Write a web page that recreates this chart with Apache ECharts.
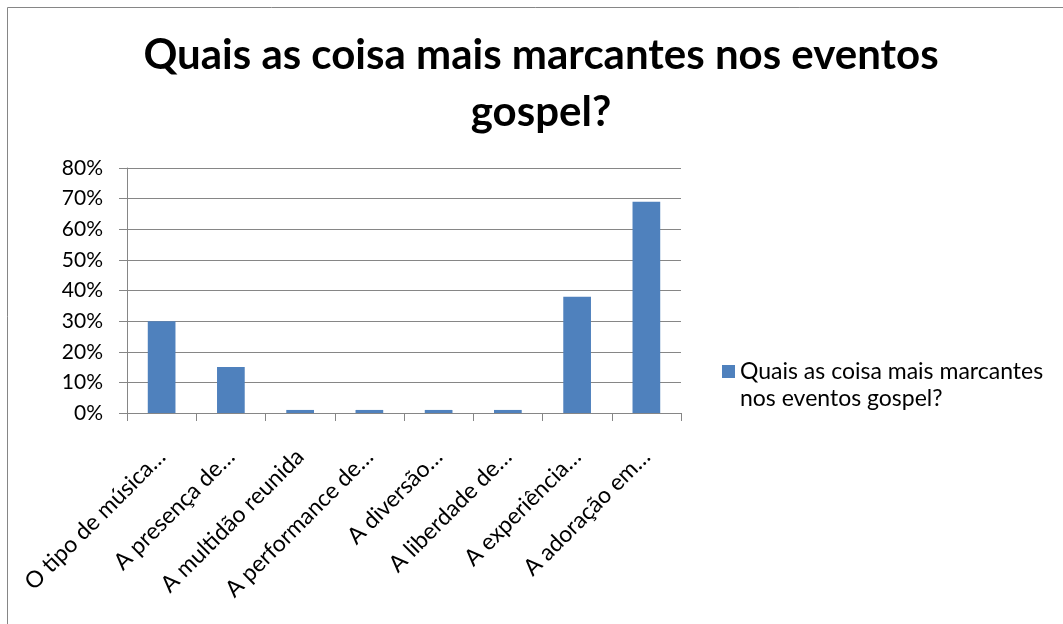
<!DOCTYPE html>
<html>
<head>
<meta charset="utf-8">
<script src="https://cdn.jsdelivr.net/npm/echarts@6/dist/echarts.min.js"></script>
<style>
  html, body { margin: 0; padding: 0; background: #fff; }
  #chart { width: 1063px; height: 624px; }
</style>
</head>
<body>
<div id="chart"></div>
<script>
// Survey answers: share of respondents per item (percent)
const titleText = 'Quais as coisa mais marcantes nos eventos\ngospel?';
const seriesName = 'Quais as coisa mais marcantes nos eventos gospel?';
const legendLines = ['Quais as coisa mais marcantes', 'nos eventos gospel?'];
const categories = [
  'O tipo de música…',
  'A presença de…',
  'A multidão reunida',
  'A performance de…',
  'A diversão…',
  'A liberdade de…',
  'A experiência…',
  'A adoração em…'
];
const values = [30, 15, 1, 1, 1, 1, 38, 69];
const yTicks = [0, 10, 20, 30, 40, 50, 60, 70, 80];

const FONT = 'Lato, "Liberation Sans", sans-serif';
const GRID = '#868686';
const BAR = '#4F81BD';

const chart = echarts.init(document.getElementById('chart'), null, { renderer: 'canvas' });

chart.setOption({
  animation: false,
  backgroundColor: '#ffffff',
  title: {
    text: titleText,
    left: 541,
    textAlign: 'center',
    top: 27,
    padding: 0,
    textStyle: {
      fontFamily: FONT,
      fontWeight: 'bold',
      fontSize: 42,
      lineHeight: 57,
      color: '#000'
    }
  },
  graphic: [{
    type: 'rect',
    shape: { x: 7.5, y: 7.5, width: 1100, height: 700 },
    style: { fill: 'none', stroke: GRID, lineWidth: 1 },
    silent: true
  }],
  legend: {
    left: 722,
    top: 331,
    padding: 0,
    orient: 'vertical',
    itemWidth: 13,
    itemHeight: 13,
    icon: 'rect',
    // an empty first line keeps the marker level with the first text line
    formatter: () => '\n' + legendLines.join('\n'),
    textStyle: {
      fontFamily: FONT,
      fontSize: 23,
      lineHeight: 27,
      color: '#000'
    },
    data: [seriesName]
  },
  grid: {
    left: 127,
    right: 382,
    top: 168,
    bottom: 211,
    containLabel: false,
    outerBoundsMode: 'none'
  },
  xAxis: {
    type: 'category',
    data: categories,
    axisLine: { lineStyle: { color: GRID, width: 1 } },
    axisTick: { show: true, length: 8, lineStyle: { color: GRID } },
    axisLabel: {
      rotate: 45,
      interval: 0,
      margin: 40,
      fontFamily: FONT,
      fontSize: 23,
      color: '#000'
    }
  },
  yAxis: {
    type: 'value',
    min: 0,
    max: 80,
    interval: 10,
    axisLine: { show: true, lineStyle: { color: GRID, width: 1 } },
    axisTick: { show: true, length: 8, lineStyle: { color: GRID } },
    splitLine: { show: true, lineStyle: { color: GRID, width: 1 } },
    axisLabel: {
      margin: 24,
      fontFamily: FONT,
      fontSize: 21,
      color: '#000',
      formatter: v => (yTicks.includes(v) ? v + '%' : '')
    }
  },
  series: [{
    name: seriesName,
    type: 'bar',
    data: values,
    barCategoryGap: '60%',
    itemStyle: { color: BAR }
  }]
});
</script>
</body>
</html>
